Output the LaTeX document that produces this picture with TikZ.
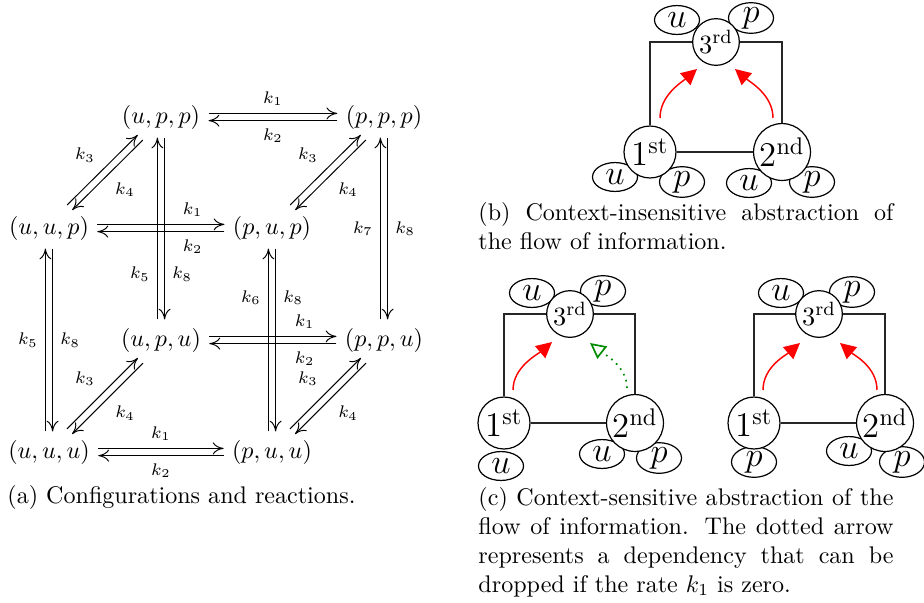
\documentclass[tikz,border=0pt]{standalone}
\usetikzlibrary{arrows.meta,shapes.geometric}
\begin{document}
\begin{tikzpicture}[x=0.4156pt,y=-0.4156pt,
  carr/.style={-{Computer Modern Rightarrow[length=4.5pt,width=5pt]}, line width=0.4pt},
  lab/.style={font=\scriptsize, inner sep=3pt},
  ordc/.style={circle, draw, fill=white, line width=0.5pt, inner sep=0.5pt},
  bigc/.style={ordc, minimum size=21.6pt, font=\Large},
  topc/.style={ordc, minimum size=19.4pt, font=\fontsize{10.95}{13}\selectfont},
  valn/.style={ellipse, draw, fill=white, line width=0.5pt, inner sep=0pt, minimum width=18.7pt, minimum height=12pt, font=\Large},
  sqline/.style={line width=0.7pt, black!85},
  flowarr/.style={red, line width=0.6pt, -{Triangle[length=6.5pt,width=6.5pt]}},
  deparr/.style={green!55!black, dotted, line width=0.7pt, -{Triangle[open,length=6.5pt,width=6.5pt]}},
  captxt/.style={inner sep=0pt, anchor=north west},
  captpar/.style={captxt, text width=172.5pt, align=justify}
]
\useasboundingbox (0,0) rectangle (924,602);

% ---------- (a) cube ----------
\node (upp) at (161,117) {$(u,p,p)$};
\node (ppp) at (384,117) {$(p,p,p)$};
\node (uup) at (49,228) {$(u,u,p)$};
\node (pup) at (272,228) {$(p,u,p)$};
\node (upu) at (161,340) {$(u,p,u)$};
\node (ppu) at (384,340) {$(p,p,u)$};
\node (uuu) at (49,452) {$(u,u,u)$};
\node (puu) at (272,452) {$(p,u,u)$};

% horizontal
\draw[carr, transform canvas={yshift=1.5pt}] (upp) -- node[lab,above]{$k_1$} (ppp);
\draw[carr, transform canvas={yshift=-1.5pt}] (ppp) -- node[lab,below]{$k_2$} (upp);
\draw[carr, transform canvas={yshift=1.5pt}] (uup) -- node[lab,above,pos=0.75]{$k_1$} (pup);
\draw[carr, transform canvas={yshift=-1.5pt}] (pup) -- node[lab,below,pos=0.25]{$k_2$} (uup);
\draw[carr, transform canvas={yshift=1.5pt}] (upu) -- node[lab,above,pos=0.75]{$k_1$} (ppu);
\draw[carr, transform canvas={yshift=-1.5pt}] (ppu) -- node[lab,below,pos=0.25]{$k_2$} (upu);
\draw[carr, transform canvas={yshift=1.5pt}] (uuu) -- node[lab,above]{$k_1$} (puu);
\draw[carr, transform canvas={yshift=-1.5pt}] (puu) -- node[lab,below]{$k_2$} (uuu);

% vertical
\draw[carr, transform canvas={xshift=-1.5pt}] (upu) -- node[lab,left,pos=0.25]{$k_5$} (upp);
\draw[carr, transform canvas={xshift=1.5pt}] (upp) -- node[lab,right,pos=0.75]{$k_8$} (upu);
\draw[carr, transform canvas={xshift=-1.5pt}] (uuu) -- node[lab,left]{$k_5$} (uup);
\draw[carr, transform canvas={xshift=1.5pt}] (uup) -- node[lab,right]{$k_8$} (uuu);
\draw[carr, transform canvas={xshift=-1.5pt}] (puu) -- node[lab,left,pos=0.73]{$k_6$} (pup);
\draw[carr, transform canvas={xshift=1.5pt}] (pup) -- node[lab,right,pos=0.27]{$k_8$} (puu);
\draw[carr, transform canvas={xshift=-1.5pt}] (ppu) -- node[lab,left]{$k_7$} (ppp);
\draw[carr, transform canvas={xshift=1.5pt}] (ppp) -- node[lab,right]{$k_8$} (ppu);

% diagonal
\draw[carr, transform canvas={xshift=-1.06pt,yshift=1.06pt}] (uup) -- node[lab,above left]{$k_3$} (upp);
\draw[carr, transform canvas={xshift=1.06pt,yshift=-1.06pt}] (upp) -- node[lab,below right]{$k_4$} (uup);
\draw[carr, transform canvas={xshift=-1.06pt,yshift=1.06pt}] (pup) -- node[lab,above left]{$k_3$} (ppp);
\draw[carr, transform canvas={xshift=1.06pt,yshift=-1.06pt}] (ppp) -- node[lab,below right]{$k_4$} (pup);
\draw[carr, transform canvas={xshift=-1.06pt,yshift=1.06pt}] (uuu) -- node[lab,above left]{$k_3$} (upu);
\draw[carr, transform canvas={xshift=1.06pt,yshift=-1.06pt}] (upu) -- node[lab,below right]{$k_4$} (uuu);
\draw[carr, transform canvas={xshift=-1.06pt,yshift=1.06pt}] (puu) -- node[lab,above left]{$k_3$} (ppu);
\draw[carr, transform canvas={xshift=1.06pt,yshift=-1.06pt}] (ppu) -- node[lab,below right]{$k_4$} (puu);

\node[captxt, anchor=base west] (capa) at (7,503) {(a) Configurations and reactions.};

% ---------- (b) ----------
\node[valn] (b3u) at (677,20) {$u$};
\node[valn] (b3p) at (751,18) {$p$};
\node[valn] (b1u) at (615,177) {$u$};
\node[valn] (b1p) at (682,182) {$p$};
\node[valn] (b2u) at (749,183) {$u$};
\node[valn] (b2p) at (812,182) {$p$};
\node[topc] (b3) at (716,42) {3\textsuperscript{rd}};
\node[bigc] (b1) at (650,152) {1\textsuperscript{st}};
\node[bigc] (b2) at (782,152) {2\textsuperscript{nd}};
\draw[sqline] (b3) -| (b1);
\draw[sqline] (b3) -| (b2);
\draw[sqline] (b1) -- (b2);
\coordinate (b1s) at (660,118);
\coordinate (b3l) at (697,69);
\coordinate (b2s) at (773,118);
\coordinate (b3r) at (735,69);
\draw[flowarr] (b1s) .. controls (660,95) and (682,82) .. (b3l);
\draw[flowarr] (b2s) .. controls (773,95) and (750,82) .. (b3r);

\node[captpar] (capb) at (478,202) {(b) Context-insensitive abstraction of\linebreak the flow of information.};

% ---------- (c) left ----------
\node[valn] (c3u) at (532,293) {$u$};
\node[valn] (c3p) at (603,291) {$p$};
\node[valn] (c1u) at (501,466) {$u$};
\node[valn] (c2u) at (602,454) {$u$};
\node[valn] (c2p) at (659,458) {$p$};
\node[topc] (c3) at (570,314) {3\textsuperscript{rd}};
\node[bigc] (c1) at (504,423) {1\textsuperscript{st}};
\node[bigc] (c2) at (635,423) {2\textsuperscript{nd}};
\draw[sqline] (c3) -| (c1);
\draw[sqline] (c3) -| (c2);
\draw[sqline] (c1) -- (c2);
\coordinate (c1s) at (513,390);
\coordinate (c3l) at (552,342);
\coordinate (c2s) at (627,388);
\coordinate (c3r) at (590,343);
\draw[flowarr] (c1s) .. controls (513,367) and (538,354) .. (c3l);
\draw[deparr] (c2s) .. controls (627,366) and (604,354) .. (c3r);

% ---------- (c) right ----------
\node[valn] (d3u) at (781,293) {$u$};
\node[valn] (d3p) at (852,292) {$p$};
\node[valn] (d1p) at (754,462) {$p$};
\node[valn] (d2u) at (849,451) {$u$};
\node[valn] (d2p) at (902,462) {$p$};
\node[topc] (d3) at (819,314) {3\textsuperscript{rd}};
\node[bigc] (d1) at (754,423) {1\textsuperscript{st}};
\node[bigc] (d2) at (885,423) {2\textsuperscript{nd}};
\draw[sqline] (d3) -| (d1);
\draw[sqline] (d3) -| (d2);
\draw[sqline] (d1) -- (d2);
\coordinate (d1s) at (763,390);
\coordinate (d3l) at (800,343);
\coordinate (d2s) at (877,390);
\coordinate (d3r) at (840,343);
\draw[flowarr] (d1s) .. controls (763,367) and (786,355) .. (d3l);
\draw[flowarr] (d2s) .. controls (877,367) and (854,355) .. (d3r);

\node[captpar] (capc) at (478,487) {(c) Context-sensitive abstraction of the\linebreak flow of information. The dotted arrow\linebreak represents a dependency that can be\linebreak dropped if the rate $k_1$ is zero.};
\end{tikzpicture}
\end{document}
